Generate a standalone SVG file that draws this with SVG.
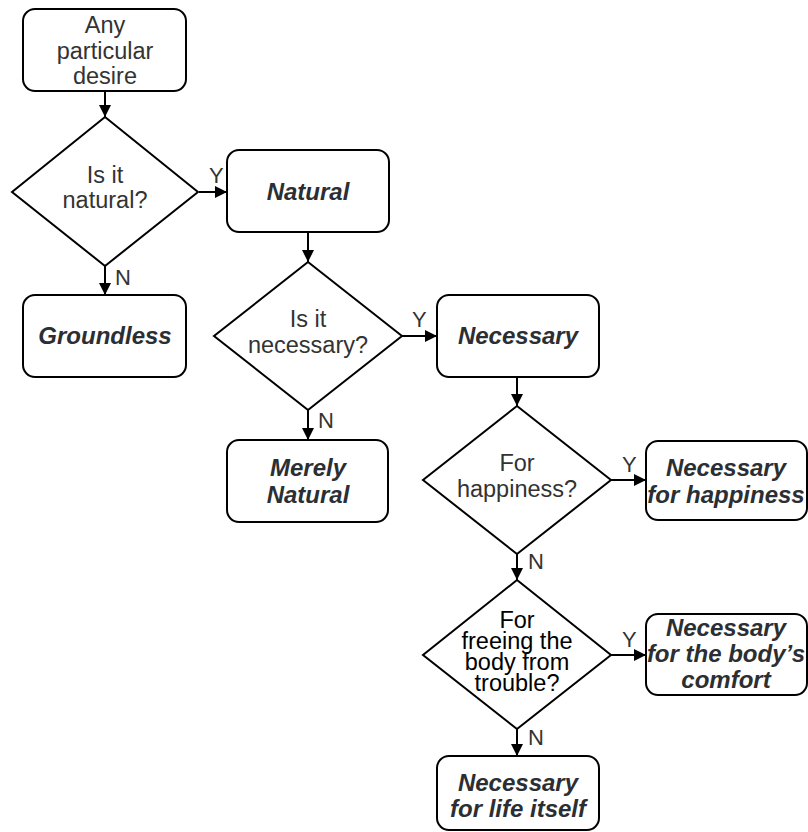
<svg xmlns="http://www.w3.org/2000/svg" width="808" height="832" viewBox="0 0 808 832">
<style>
.box{fill:#fff;stroke:#000;stroke-width:2}
.t{font-family:"Liberation Sans",Arial,sans-serif;font-size:23.5px;fill:#333;text-anchor:middle}
.b{font-weight:bold;font-style:italic;fill:#2b2f33;font-size:24px}
.k{fill:#000}
.c{fill:none;stroke:#000;stroke-width:2}
.lbl{font-family:"Liberation Sans",Arial,sans-serif;font-size:22px;fill:#333}
</style>
<defs>
<marker id="ah" viewBox="0 0 10 10" refX="10" refY="5" markerWidth="6" markerHeight="6" orient="auto" markerUnits="strokeWidth">
<path d="M0,0 L10,5 L0,10 z" fill="#000"/>
</marker>
</defs>
<rect width="808" height="832" fill="#fff"/>
<g id="connectors">
<path class="c" d="M105,91 V117" marker-end="url(#ah)"/>
<path class="c" d="M199,192 H227" marker-end="url(#ah)"/>
<path class="c" d="M105,266 V295" marker-end="url(#ah)"/>
<path class="c" d="M308,232 V262" marker-end="url(#ah)"/>
<path class="c" d="M402,336 H437" marker-end="url(#ah)"/>
<path class="c" d="M308,410 V440" marker-end="url(#ah)"/>
<path class="c" d="M517,377 V406" marker-end="url(#ah)"/>
<path class="c" d="M611,480 H646" marker-end="url(#ah)"/>
<path class="c" d="M517,554 V580" marker-end="url(#ah)"/>
<path class="c" d="M611,655 H646" marker-end="url(#ah)"/>
<path class="c" d="M517,729 V756" marker-end="url(#ah)"/>
<text class="lbl" x="209" y="183">Y</text>
<text class="lbl" x="115" y="285">N</text>
<text class="lbl" x="412" y="327">Y</text>
<text class="lbl" x="318" y="428">N</text>
<text class="lbl" x="622" y="472">Y</text>
<text class="lbl" x="528" y="569">N</text>
<text class="lbl" x="622" y="647">Y</text>
<text class="lbl" x="528" y="745">N</text>
</g>
<g id="start">
<rect class="box" x="23" y="9" width="163" height="82" rx="12"/>
<text class="t" x="105" y="33">Any</text>
<text class="t" x="105" y="59">particular</text>
<text class="t" x="105" y="84">desire</text>
</g>
<g id="q-natural">
<path class="box" d="M105,117 L198,192 L105,266 L12,192 Z"/>
<text class="t" x="105" y="183">Is it</text>
<text class="t" x="105" y="208">natural?</text>
</g>
<g id="natural">
<rect class="box" x="227" y="150" width="162" height="82" rx="12"/>
<text class="t b" x="308" y="200">Natural</text>
</g>
<g id="groundless">
<rect class="box" x="23" y="295" width="163" height="82" rx="12"/>
<text class="t b" x="105" y="344">Groundless</text>
</g>
<g id="q-necessary">
<path class="box" d="M308,262 L402,336 L308,410 L214,336 Z"/>
<text class="t" x="308" y="327">Is it</text>
<text class="t" x="308" y="353">necessary?</text>
</g>
<g id="necessary">
<rect class="box" x="437" y="295" width="162" height="82" rx="12"/>
<text class="t b" x="518" y="344">Necessary</text>
</g>
<g id="merely-natural">
<rect class="box" x="227" y="440" width="161" height="82" rx="12"/>
<text class="t b" x="308" y="476">Merely</text>
<text class="t b" x="308" y="503">Natural</text>
</g>
<g id="q-happiness">
<path class="box" d="M517,406 L611,480 L517,554 L423,480 Z"/>
<text class="t" x="517" y="471">For</text>
<text class="t" x="517" y="497">happiness?</text>
</g>
<g id="nec-happiness">
<rect class="box" x="646" y="441" width="161" height="79" rx="12"/>
<text class="t b" x="726" y="476">Necessary</text>
<text class="t b" x="726" y="503">for happiness</text>
</g>
<g id="q-body">
<path class="box" d="M517,580 L611,655 L517,729 L423,655 Z"/>
<text class="t k" x="517" y="628">For</text>
<text class="t k" x="517" y="649">freeing the</text>
<text class="t k" x="517" y="670">body from</text>
<text class="t k" x="517" y="691">trouble?</text>
</g>
<g id="nec-body">
<rect class="box" x="646" y="614" width="161" height="81" rx="12"/>
<text class="t b" x="726" y="636">Necessary</text>
<text class="t b" x="726" y="662">for the body’s</text>
<text class="t b" x="726" y="688">comfort</text>
</g>
<g id="nec-life">
<rect class="box" x="437" y="756" width="162" height="74" rx="12"/>
<text class="t b" x="518" y="791">Necessary</text>
<text class="t b" x="518" y="817">for life itself</text>
</g>
</svg>
